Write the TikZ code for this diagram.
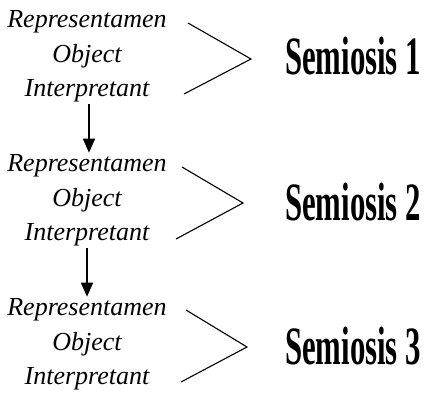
\documentclass[tikz,border=0pt]{standalone}
\usepackage{fontspec}
\setmainfont{Liberation Serif}
\usetikzlibrary{arrows.meta}

\begin{document}
\begin{tikzpicture}[x=1pt, y=-1pt,
  every node/.style = {inner sep=0pt, outer sep=0pt},
  role/.style = {font=\itshape\fontsize{26}{26}\selectfont},
  semiosis/.style = {font=\bfseries\fontsize{54}{54}\selectfont, xscale=0.57},
  bracket/.style = {line width=1.1pt},
  link/.style = {line width=1.5pt, -{Triangle[width=12pt,length=14pt]}}]
  \useasboundingbox (0,0) rectangle (425,399);

  % first semiosis
  \node[role] (rep1) at (87,22) {Representamen};
  \node[role] (obj1) at (87,56) {Object};
  \node[role] (int1) at (87,91) {Interpretant};
  \coordinate (top1) at (188,23);
  \coordinate (tip1) at (251,59);
  \coordinate (bot1) at (184,94);
  \draw[bracket] (top1) -- (tip1) -- (bot1);
  \node[semiosis] (sem1) at (353,56) {Semiosis 1};

  % second semiosis
  \node[role] (rep2) at (87,166) {Representamen};
  \node[role] (obj2) at (87,200) {Object};
  \node[role] (int2) at (87,235) {Interpretant};
  \coordinate (top2) at (182,167);
  \coordinate (tip2) at (243,203);
  \coordinate (bot2) at (176,239);
  \draw[bracket] (top2) -- (tip2) -- (bot2);
  \node[semiosis] (sem2) at (353,202) {Semiosis 2};

  % third semiosis
  \node[role] (rep3) at (87,310) {Representamen};
  \node[role] (obj3) at (87,344) {Object};
  \node[role] (int3) at (87,379) {Interpretant};
  \coordinate (top3) at (186,310);
  \coordinate (tip3) at (247,347);
  \coordinate (bot3) at (181,382);
  \draw[bracket] (top3) -- (tip3) -- (bot3);
  \node[semiosis] (sem3) at (353,346) {Semiosis 3};

  % steps between them
  \draw[link] ([xshift=2pt,yshift=-2pt]int1.south) -- ([xshift=2pt,yshift=2pt]rep2.north);
  \draw[link] ([xshift=0pt,yshift=-2pt]int2.south) -- ([xshift=0pt,yshift=2pt]rep3.north);
\end{tikzpicture}
\end{document}
